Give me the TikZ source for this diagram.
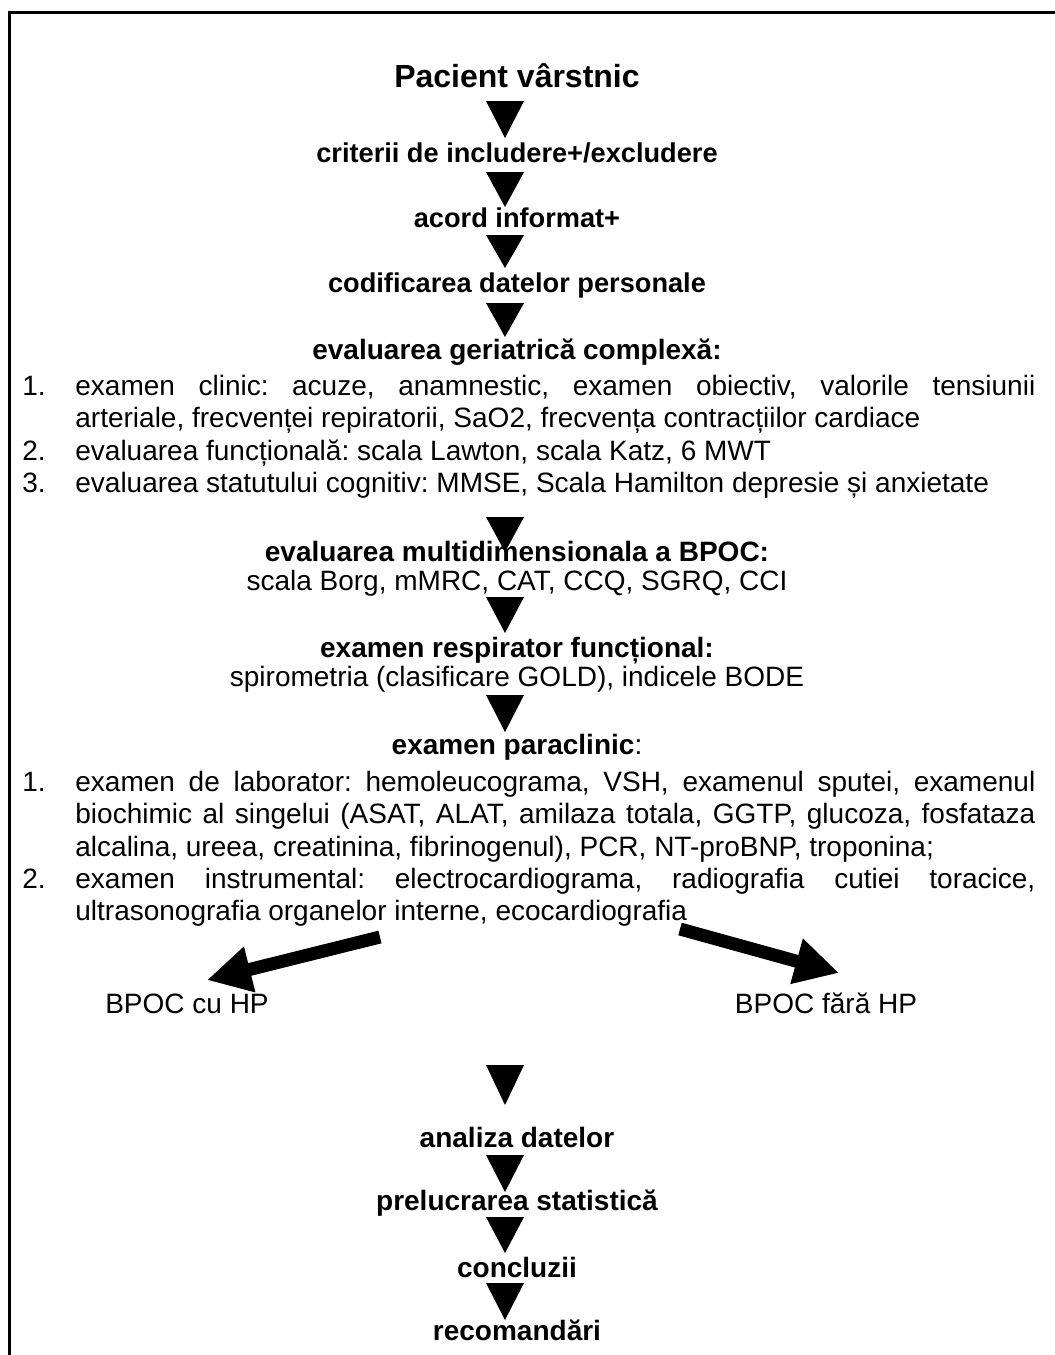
\documentclass[tikz,border=0pt]{standalone}
\usepackage{fontspec}
\setmainfont{Liberation Sans}
\usetikzlibrary{arrows.meta}
\newcommand{\listitem}[2]{\par\noindent\hangindent=26.5pt\hangafter=1\makebox[26.5pt][l]{#1}#2}

\begin{document}
\begin{tikzpicture}[x=0.5pt, y=-0.5pt,
  every node/.style={inner sep=0pt},
  steptitle/.style={anchor=base, font=\bfseries\fontsize{13.6}{16}\selectfont},
  head/.style={anchor=base, font=\bfseries\fontsize{14}{16.5}\selectfont},
  plain/.style={anchor=base, font=\fontsize{14}{16.5}\selectfont},
  itemlist/.style={anchor=north west, text width=506.5pt, align=justify},
  fat/.style={line width=6.5pt, -{Triangle[length=22pt, width=22pt]}},
]
\clip (0,0) rectangle (1055,1355);

%frame
\draw[line width=1.5pt] (9,1400) -- (9,12) -- (1100,12);

%steps
\node[steptitle, font=\bfseries\fontsize{16}{18}\selectfont] (pac) at (517,87) {Pacient vârstnic};
\node[steptitle] (crit) at (517,162) {criterii de includere+/excludere};
\node[steptitle] (acord) at (517,227) {acord informat+};
\node[steptitle] (cod) at (517,292) {codificarea datelor personale};

\node[head] (ger) at (517,359) {evaluarea geriatrică complexă:};
\node[itemlist, font=\fontsize{14}{16.3}\selectfont] (gerlist) at (22,362) {\hyphenpenalty=10000\frenchspacing
\listitem{1.}{examen clinic: acuze, anamnestic, examen obiectiv, valorile tensiunii\linebreak
arteriale, frecvenței repiratorii, SaO2, frecvența contracțiilor cardiace}
\listitem{2.}{evaluarea funcțională: scala Lawton, scala Katz, 6 MWT}
\listitem{3.}{evaluarea statutului cognitiv: MMSE, Scala Hamilton depresie și anxietate}\par};

\node[head] (bpoc) at (517,561) {evaluarea multidimensionala a BPOC:};
\node[plain] (scale) at (517,590) {scala Borg, mMRC, CAT, CCQ, SGRQ, CCI};

\node[head] (resp) at (517,657) {examen respirator funcțional:};
\node[plain] (spiro) at (517,686) {spirometria (clasificare GOLD), indicele BODE};

\node[head] (para) at (517,754) {examen paraclinic\mdseries:};
\node[itemlist, font=\fontsize{14}{16.1}\selectfont] (paralist) at (22,759) {\hyphenpenalty=10000\frenchspacing
\listitem{1.}{examen de laborator: hemoleucograma, VSH, examenul sputei, examenul\linebreak
biochimic al singelui (ASAT, ALAT, amilaza totala, GGTP, glucoza, fosfataza\linebreak
alcalina, ureea, creatinina, fibrinogenul), PCR, NT-proBNP, troponina;}
\listitem{2.}{examen instrumental: electrocardiograma, radiografia cutiei toracice,\linebreak
ultrasonografia organelor interne, ecocardiografia}\par};

%groups
\node[plain] (cuhp) at (187,1013) {BPOC cu HP};
\node[plain] (farahp) at (826,1013) {BPOC fără HP};
\coordinate (ltail) at (380,937);
\coordinate (rtail) at (680,929);
\draw[fat] (ltail) -- ([shift={(20,-13)}]cuhp.north);
\draw[fat] (rtail) -- ([shift={(13,-19)}]farahp.north);

\node[head] (anal) at (517,1147) {analiza datelor};
\node[head] (prel) at (517,1210) {prelucrarea statistică};
\node[head] (concl) at (517,1277) {concluzii};
\node[head] (recom) at (517,1340) {recomandări};

%triangles
\foreach \t/\b in {101/138, 172/207, 235/268, 303/337, 517/552, 597/633,
  695/732, 1065/1105, 1155/1192, 1217/1253, 1283/1320}
  \fill (486,\t) -- (524,\t) -- (505,\b) -- cycle;

\end{tikzpicture}
\end{document}
